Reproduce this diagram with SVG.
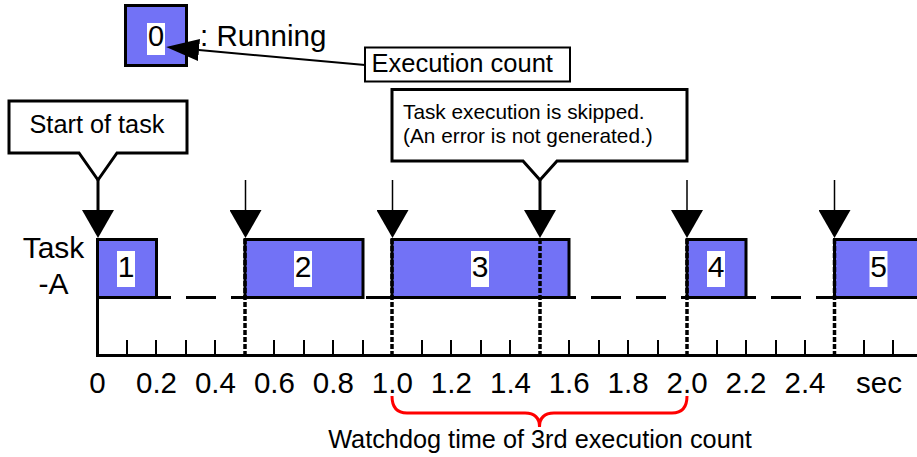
<svg xmlns="http://www.w3.org/2000/svg" width="917" height="457" viewBox="0 0 917 457">
<style>
text{font-family:"Liberation Sans",Arial,sans-serif;fill:#000}
.bar{fill:#7272f6;stroke:#000;stroke-width:3}
.wbox{fill:#fff}
.num{font-size:30px;text-anchor:middle}
.lbl{font-size:29.5px;text-anchor:middle}
.tick{stroke:#000;stroke-width:2}
.dot{stroke:#000;stroke-width:3.5;stroke-dasharray:5 2}
.arr{stroke:#000;stroke-width:1.5;marker-end:url(#tri)}
.arrT{stroke:#000;stroke-width:3;marker-end:url(#tri)}
.callout{fill:#fff;stroke:#000;stroke-width:3}
</style>
<defs>
<marker id="tri" viewBox="0 -16 28 32" refX="0" refY="0" markerWidth="28" markerHeight="32" markerUnits="userSpaceOnUse" orient="auto">
<path d="M0,-16 L28,0 L0,16 Z" fill="#000"/>
</marker>
<marker id="tri2" viewBox="0 -11 33 22" refX="0" refY="0" markerWidth="33" markerHeight="22" markerUnits="userSpaceOnUse" orient="auto">
<path d="M0,-11 L33,0 L0,11 Z" fill="#000"/>
</marker>
</defs>

<g id="legend">
<rect class="bar" x="125.5" y="5.5" width="61" height="60"/>
<rect class="wbox" x="147" y="23" width="18" height="32"/>
<text x="156" y="46" font-size="29" text-anchor="middle">0</text>
<text x="200" y="46" font-size="29.5">: Running</text>
</g>

<g id="exec-count">
<rect x="365" y="47.5" width="205" height="34" fill="#fff" stroke="#000" stroke-width="2"/>
<text x="371.5" y="71.5" font-size="25.5">Execution count</text>
</g>

<g id="start-callout">
<path class="callout" d="M9,101 H187 V153 H117 L98,180 L79,153 H9 Z"/>
<text x="29.5" y="132.5" font-size="25.3">Start of task</text>
</g>

<g id="skip-callout">
<path class="callout" d="M392,89.5 H687 V161 H557 L540,180 L523,161 H392 Z"/>
<text x="403" y="119.3" font-size="20.8">Task execution is skipped.</text>
<text x="403" y="143.3" font-size="20.8">(An error is not generated.)</text>
</g>

<g id="task-label">
<text x="53.5" y="258" class="num">Task</text>
<text x="53.5" y="294" class="num">-A</text>
</g>

<g id="timeline">
<line x1="96" y1="297.5" x2="917" y2="297.5" stroke="#000" stroke-width="3" stroke-dasharray="30 15"/>
</g>

<g id="bar-1">
<rect class="bar" x="97.5" y="239.5" width="59" height="58"/>
<rect class="wbox" x="117" y="251" width="18" height="36"/>
<text class="num" x="126" y="277">1</text>
</g>
<g id="bar-2">
<rect class="bar" x="245" y="239.5" width="118" height="58"/>
<rect class="wbox" x="294" y="251" width="18" height="36"/>
<text class="num" x="303" y="277">2</text>
</g>
<g id="bar-3">
<rect class="bar" x="392" y="239.5" width="177" height="58"/>
<rect class="wbox" x="471" y="251" width="18" height="36"/>
<text class="num" x="480" y="277">3</text>
</g>
<g id="bar-4">
<rect class="bar" x="687" y="239.5" width="59" height="58"/>
<rect class="wbox" x="707" y="251" width="18" height="36"/>
<text class="num" x="716" y="277">4</text>
</g>
<g id="bar-5">
<rect class="bar" x="834.5" y="239.5" width="90" height="58"/>
<rect class="wbox" x="869.5" y="251" width="18" height="36"/>
<text class="num" x="878.5" y="277">5</text>
</g>

<g id="axis">
<line x1="97.5" y1="238" x2="97.5" y2="356" stroke="#000" stroke-width="3"/>
<line x1="96" y1="355.5" x2="917" y2="355.5" stroke="#000" stroke-width="3"/>
<g class="tick">
<line x1="127" y1="340" x2="127" y2="355"/><line x1="156" y1="340" x2="156" y2="355"/>
<line x1="186" y1="340" x2="186" y2="355"/><line x1="215" y1="340" x2="215" y2="355"/>
<line x1="274" y1="340" x2="274" y2="355"/><line x1="304" y1="340" x2="304" y2="355"/>
<line x1="333" y1="340" x2="333" y2="355"/><line x1="363" y1="340" x2="363" y2="355"/>
<line x1="422" y1="340" x2="422" y2="355"/><line x1="451" y1="340" x2="451" y2="355"/>
<line x1="481" y1="340" x2="481" y2="355"/><line x1="510" y1="340" x2="510" y2="355"/>
<line x1="569" y1="340" x2="569" y2="355"/><line x1="599" y1="340" x2="599" y2="355"/>
<line x1="628" y1="340" x2="628" y2="355"/><line x1="658" y1="340" x2="658" y2="355"/>
<line x1="717" y1="340" x2="717" y2="355"/><line x1="746" y1="340" x2="746" y2="355"/>
<line x1="776" y1="340" x2="776" y2="355"/><line x1="805" y1="340" x2="805" y2="355"/>
<line x1="864" y1="340" x2="864" y2="355"/><line x1="893" y1="340" x2="893" y2="355"/>
</g>
<text class="lbl" x="97.5" y="393">0</text>
<text class="lbl" x="156.5" y="393">0.2</text>
<text class="lbl" x="215.4" y="393">0.4</text>
<text class="lbl" x="274.4" y="393">0.6</text>
<text class="lbl" x="333.3" y="393">0.8</text>
<text class="lbl" x="392.3" y="393">1.0</text>
<text class="lbl" x="451.3" y="393">1.2</text>
<text class="lbl" x="510.5" y="393">1.4</text>
<text class="lbl" x="569.2" y="393">1.6</text>
<text class="lbl" x="628.1" y="393">1.8</text>
<text class="lbl" x="687.1" y="393">2.0</text>
<text class="lbl" x="746" y="393">2.2</text>
<text class="lbl" x="805" y="393">2.4</text>
<text class="lbl" x="879" y="393">sec</text>
</g>

<g id="dotted">
<line class="dot" x1="245" y1="239" x2="245" y2="355"/>
<line class="dot" x1="392" y1="239" x2="392" y2="355"/>
<line class="dot" x1="540" y1="239" x2="540" y2="355"/>
<line class="dot" x1="687" y1="239" x2="687" y2="355"/>
<line class="dot" x1="834.5" y1="239" x2="834.5" y2="355"/>
</g>

<g id="connectors">
<line class="arrT" x1="98" y1="180" x2="98" y2="210"/>
<line class="arr" x1="245.5" y1="180" x2="245.5" y2="210"/>
<line class="arr" x1="392.5" y1="180" x2="392.5" y2="210"/>
<line class="arrT" x1="540" y1="180" x2="540" y2="210"/>
<line class="arr" x1="687" y1="180" x2="687" y2="210"/>
<line class="arr" x1="834.5" y1="180" x2="834.5" y2="210"/>
<line x1="365" y1="65" x2="199" y2="50" stroke="#000" stroke-width="2" marker-end="url(#tri2)"/>
</g>

<g id="brace">
<path d="M392,396 Q392,413 407,413 H525 Q539.5,413 539.5,427 Q539.5,413 554,413 H672 Q687,413 687,396" fill="none" stroke="#ff0000" stroke-width="3"/>
<text x="540" y="448" font-size="25.3" text-anchor="middle">Watchdog time of 3rd execution count</text>
</g>
</svg>
